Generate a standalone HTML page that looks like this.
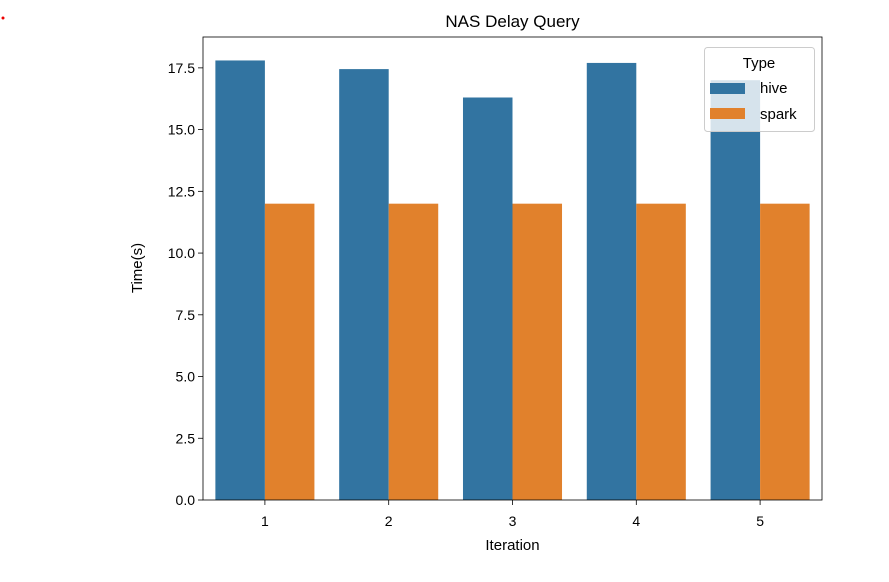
<!DOCTYPE html>
<html><head><meta charset="utf-8"><style>
body{margin:0;background:#fff;width:889px;height:577px;overflow:hidden}
svg{font-family:"Liberation Sans","DejaVu Sans",sans-serif}
</style></head><body>
<svg id="chart" width="889" height="577">
<circle cx="3" cy="18" r="1.5" fill="#e00"/>
</svg>
<script>
const categories = ["1","2","3","4","5"];
const hiveValues = [17.8, 17.45, 16.3, 17.7, 17.0];
const sparkValues = [12.0, 12.0, 12.0, 12.0, 12.0];
const yTicks = [0, 2.5, 5, 7.5, 10, 12.5, 15, 17.5];
const yTickLabels = ["0.0","2.5","5.0","7.5","10.0","12.5","15.0","17.5"];
const NS="http://www.w3.org/2000/svg";
const svg=document.getElementById('chart');
const L=203,R=822,T=37,B=500,yMax=18.75;
const y=v=>B-(v/yMax)*(B-T);
const band=(R-L)/categories.length;
const xC=i=>L+band*(i+0.5);
function mk(tag,attrs,text){const e=document.createElementNS(NS,tag);for(const k in attrs)e.setAttribute(k,attrs[k]);if(text!==undefined)e.textContent=text;svg.appendChild(e);return e;}
const bw=band*0.4;
categories.forEach((c,i)=>{
  let r=mk('rect',{x:xC(i)-bw,y:y(hiveValues[i]),width:bw,height:B-y(hiveValues[i]),fill:'#3274a1'});
  
  
  r=mk('rect',{x:xC(i),y:y(sparkValues[i]),width:bw,height:B-y(sparkValues[i]),fill:'#e1812c'});
  
  
  let t=mk('line',{x1:xC(i),x2:xC(i),y1:B,y2:B+5,stroke:'#000','stroke-width':0.8});
  
  
  t=mk('text',{x:xC(i),y:B+26,'font-size':14,'text-anchor':'middle',fill:'#000'},c);
  
  
});
yTicks.forEach((v,i)=>{
  let t=mk('line',{x1:L-5,x2:L,y1:y(v),y2:y(v),stroke:'#000','stroke-width':0.8});
  
  
  t=mk('text',{x:L-8,y:y(v)+5,'font-size':14,'text-anchor':'end',fill:'#000'},yTickLabels[i]);
  
  
});
let f=mk('rect',{x:L,y:T,width:R-L,height:B-T,fill:'none',stroke:'#000','stroke-width':0.8});


f=mk('text',{x:(L+R)/2,y:27,'font-size':17,'text-anchor':'middle'},'NAS Delay Query');


f=mk('text',{x:(L+R)/2,y:550,'font-size':15,'text-anchor':'middle'},'Iteration');


f=mk('text',{x:0,y:0,'font-size':15,'text-anchor':'middle',transform:'translate(142,268) rotate(-90)'},'Time(s)');


const g=document.createElementNS(NS,'g');svg.appendChild(g);


function lg(tag,attrs,text){const e=mk(tag,attrs,text);g.appendChild(e);return e;}
lg('rect',{x:704.5,y:47.5,width:110,height:84,rx:3,fill:'#fff','fill-opacity':0.8,stroke:'#ccc'});
let e=lg('text',{x:759,y:68,'font-size':15,'text-anchor':'middle'},'Type');


e=lg('rect',{x:710,y:83,width:35,height:11,fill:'#3274a1'});


e=lg('text',{x:760,y:93,'font-size':15},'hive');


e=lg('rect',{x:710,y:108,width:35,height:11,fill:'#e1812c'});


e=lg('text',{x:760,y:119,'font-size':15},'spark');


</script>
</body></html>
